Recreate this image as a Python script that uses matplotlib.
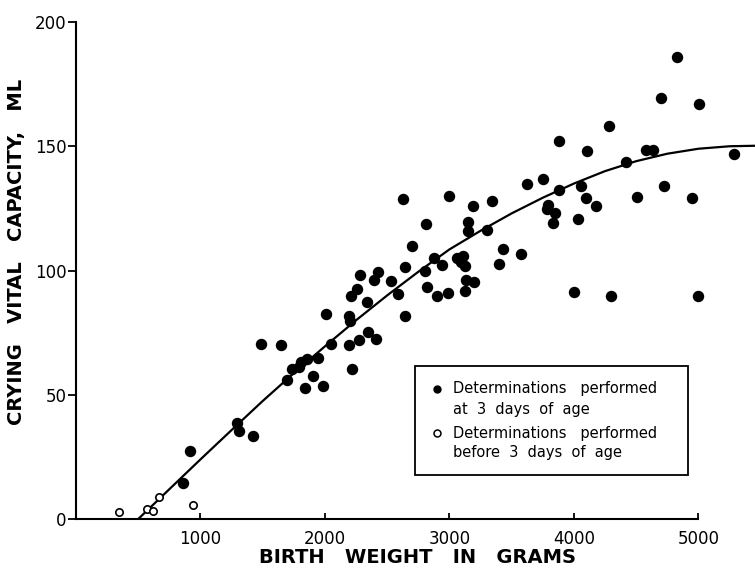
import matplotlib
matplotlib.use('Agg')
import matplotlib.pyplot as plt
from matplotlib.patches import Rectangle

# determinations at 3 days of age (filled dots)
filled_x = [862, 916, 1291, 1309, 1419, 1486, 1644, 1692, 1737, 1794, 1805, 1853,
            1839, 1906, 1987, 1941, 2045, 2008, 2193, 2217, 2193, 2201, 2206, 2255,
            2273, 2343, 2410, 2340, 2391, 2281, 2428, 2530, 2589, 2624, 2809, 2699,
            2645, 2645, 2803, 2876, 2937, 2817, 2902, 2990, 2995, 3186, 3339, 3146,
            3146, 3304, 3058, 3111, 3090, 3124, 3432, 3398, 3574, 3133, 3199, 3127,
            3625, 3753, 3882, 4107, 3880, 4054, 4096, 4174, 3794, 3781, 3850, 3829,
            4029, 4002, 4825, 4699, 5004, 4284, 4415, 4578, 4632, 5288, 4503, 4725,
            4950, 4297, 4998]
filled_y = [14.4, 27.5, 38.6, 35.6, 33.5, 70.4, 70.2, 56.0, 60.3, 61.2, 63.0, 64.4,
            52.7, 57.4, 53.6, 64.6, 70.6, 82.3, 70.2, 60.3, 81.6, 79.6, 89.6, 92.7,
            72.2, 75.1, 72.5, 87.2, 96.0, 98.0, 99.5, 95.7, 90.7, 128.6, 118.8, 110.0,
            101.6, 81.6, 99.7, 105.1, 102.4, 93.4, 89.6, 91.0, 130.0, 125.9, 127.9, 119.5,
            115.9, 116.3, 105.1, 106.0, 103.4, 102.0, 108.5, 102.8, 106.5, 96.0, 95.4, 91.9,
            134.7, 137.0, 152.1, 148.1, 132.3, 134.0, 129.2, 125.9, 126.2, 124.6, 123.3, 119.0,
            120.8, 91.3, 185.8, 169.6, 167.0, 158.0, 143.7, 148.5, 148.5, 146.8, 129.7, 134.0,
            129.0, 89.6, 89.9]

# determinations before 3 days of age (open circles)
open_x = [345, 568, 621, 669, 942]
open_y = [2.8, 4.0, 3.2, 8.7, 5.5]

# fitted curve
curve_x = [500, 750, 1000, 1250, 1500, 1750, 2000, 2250, 2500, 2750, 3000,
           3250, 3500, 3750, 4000, 4250, 4500, 4750, 5000, 5250, 5460]
curve_y = [0, 12, 24, 35.8, 47.5, 58.7, 69.5, 80, 90, 99.5, 108.5,
           116, 123, 129.3, 135, 140, 144, 147, 149, 150, 150.2]

xticks = [1000, 2000, 3000, 4000, 5000]
yticks = [0, 50, 100, 150, 200]

fig = plt.figure(figsize=(7.55, 5.72), dpi=100)
ax = fig.add_axes([76/755, 1 - 519/572, 679/755, 497/572])

ax.plot(curve_x, curve_y, color='black', lw=1.6, zorder=2)
ax.scatter(filled_x, filled_y, s=52, color='black', zorder=3, clip_on=False)
ax.scatter(open_x, open_y, s=28, facecolors='white', edgecolors='black',
           linewidths=1.2, zorder=3, clip_on=False)

ax.set_xlim(0, 5454)
ax.set_ylim(0, 200)
ax.spines['top'].set_visible(False)
ax.spines['right'].set_visible(False)
ax.spines['left'].set_linewidth(1.5)
ax.spines['bottom'].set_linewidth(1.5)
ax.spines['left'].set_bounds(0, 200)
ax.spines['bottom'].set_bounds(0, 5000)

ax.set_xticks(xticks)
ax.set_yticks(yticks)
ax.tick_params(axis='y', direction='out', length=6, width=1.3, pad=1, labelsize=12)
ax.tick_params(axis='x', direction='in', length=4, width=1.3, pad=8, labelsize=12)

ax.set_xlabel('BIRTH   WEIGHT   IN   GRAMS', fontsize=14, fontweight='bold', va='center')
ax.set_ylabel('CRYING   VITAL   CAPACITY,   ML', fontsize=14, fontweight='bold', va='center')
ax.xaxis.set_label_coords(0.503, -0.078)
ax.yaxis.set_label_coords(-0.087, 0.537)

# legend box
ax.add_patch(Rectangle((0.4993, 0.0885), 0.402, 0.2193, transform=ax.transAxes,
                       fill=False, edgecolor='black', lw=1.3, zorder=4))
ax.plot([0.532], [0.2616], 'o', color='black', ms=5, transform=ax.transAxes, zorder=5)
ax.plot([0.532], [0.1730], 'o', mfc='white', mec='black', mew=1.1, ms=5,
        transform=ax.transAxes, zorder=5)
legend_lines = [('Determinations   performed', 0.2616),
                ('at  3  days  of  age', 0.2213),
                ('Determinations   performed', 0.1730),
                ('before  3  days  of  age', 0.1348)]
for txt, yy in legend_lines:
    ax.text(0.5552, yy, txt, transform=ax.transAxes, fontsize=10.5,
            ha='left', va='center', zorder=5)

fig.savefig('out.png', dpi=100)
